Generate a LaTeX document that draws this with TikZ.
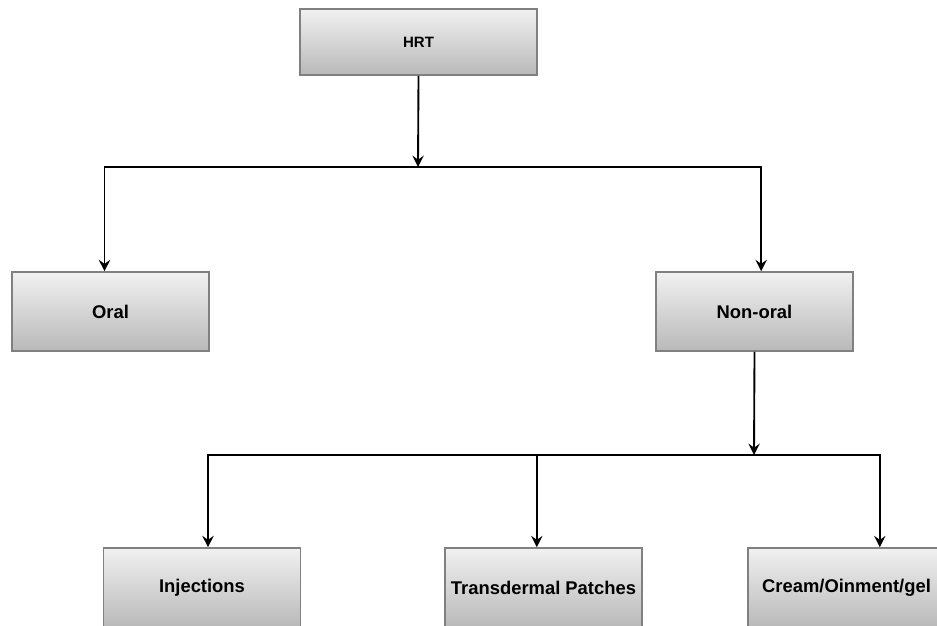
\documentclass[tikz,border=0pt]{standalone}
\usepackage{fontspec}
\setsansfont{Liberation Sans}
\usepackage{tikz}
\usetikzlibrary{arrows.meta, positioning, calc}
\definecolor{boxedge}{RGB}{128,128,128}
\definecolor{boxtop}{RGB}{241,241,241}
\definecolor{boxbot}{RGB}{185,185,185}

\begin{document}
\begin{tikzpicture}[
      x=0.75pt, y=-0.75pt,
      box/.style={rectangle, draw=boxedge, line width=1.2pt,
                  top color=boxtop, bottom color=boxbot,
                  minimum width=147.75pt, minimum height=59.25pt,
                  font=\sffamily\bfseries\fontsize{13.8}{16}\selectfont, align=center},
      arr/.style={-{Stealth[length=8.5pt, width=8.5pt, inset=3pt]}, line width=1.4pt, draw=black}
    ]
    \useasboundingbox (0,0) rectangle (937,625);
    \clip (0,0) rectangle (937,625);
    \node[box, minimum width=177.75pt, minimum height=49.5pt,
          font=\sffamily\bfseries\fontsize{11.25}{14}\selectfont] (hrt) at (418.5,42) {HRT};
    \node[box] (oral) at (110.5,311.5) {Oral};
    \node[box] (nonoral) at (754.5,311.5) {Non-oral};
    \node[box] (inj) at (202,587.5) {Injections};
    \node[box] (patch) at (543.5,587.5) {Transdermal Patches};
    \node[box] (cream) at (846.5,587.5) {Cream/Oinment/gel};
    % split points
    \coordinate (s1) at (418,167);
    \coordinate (s2) at (754,455);
    \draw[arr] (hrt.south) -- (s1);
    \draw[arr] (s1) -| ([xshift=-4.5pt]oral.north);
    \draw[arr] (s1) -| ([xshift=5pt]nonoral.north);
    \draw[arr] (nonoral.south) -- (s2);
    \draw[arr] (s2) -| ([xshift=4.5pt]inj.north);
    \draw[arr] (s2) -| ([xshift=-5pt]patch.north);
    \draw[arr] (s2) -| ([xshift=25pt]cream.north);
  \end{tikzpicture}
\end{document}
